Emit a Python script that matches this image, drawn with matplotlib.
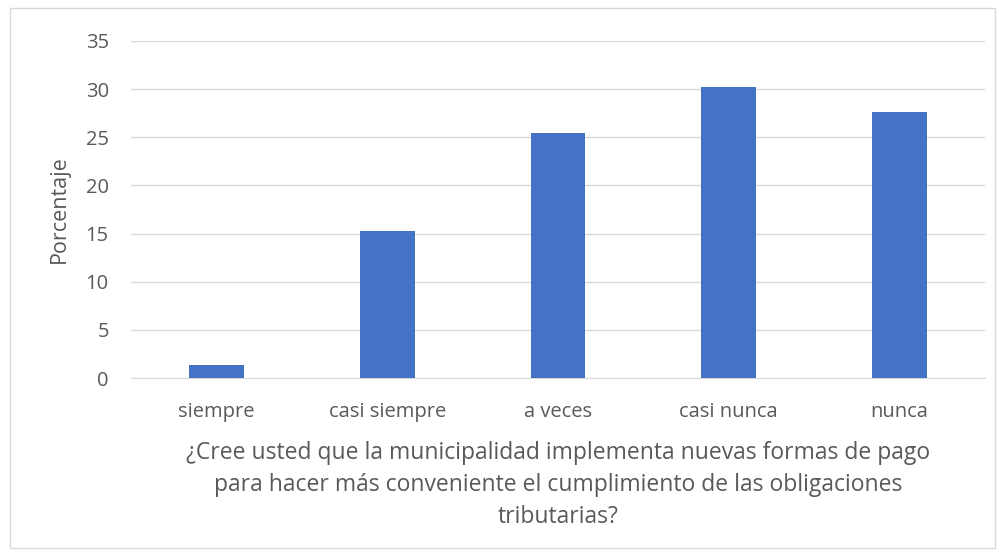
import matplotlib
matplotlib.use('Agg')
import matplotlib.pyplot as plt
from matplotlib.patches import Rectangle

categories = ['siempre', 'casi siempre', 'a veces', 'casi nunca', 'nunca']
porcentaje = [1.3, 15.3, 25.4, 30.2, 27.6]
y_ticks = [0, 5, 10, 15, 20, 25, 30, 35]

xlabel = ('¿Cree usted que la municipalidad implementa nuevas formas de pago\n'
          'para hacer más conveniente el cumplimiento de las obligaciones\n'
          'tributarias?')

plt.rcParams['font.family'] = ['Open Sans', 'DejaVu Sans']
text_color = '#595959'

fig = plt.figure(figsize=(10.02, 5.56), dpi=100)
fig.patches.append(Rectangle((10 / 1002, 8 / 556), 985 / 1002, 540 / 556,
                             transform=fig.transFigure, fill=False,
                             edgecolor='#D9D9D9', linewidth=1))

ax = fig.add_axes([131 / 1002, 178 / 556, 854 / 1002, 337 / 556])
x = range(len(categories))
ax.bar(x, porcentaje, width=0.32, color='#4472C4', zorder=3)

ax.set_xlim(-0.5, len(categories) - 0.5)
ax.set_ylim(0, 35)
ax.set_yticks(y_ticks)
ax.set_xticks(list(x))
ax.set_xticklabels(categories)
ax.grid(axis='y', color='#D9D9D9', linewidth=1, zorder=0)
for s in ['top', 'right', 'left']:
    ax.spines[s].set_visible(False)
ax.spines['bottom'].set_color('#D9D9D9')
ax.tick_params(axis='both', length=0, labelsize=14.5, colors=text_color)
ax.tick_params(axis='y', pad=16)
ax.tick_params(axis='x', pad=17)

ax.set_ylabel('Porcentaje', fontsize=15.5, color=text_color, labelpad=11)
ax.set_xlabel(xlabel, fontsize=16.5, color=text_color, labelpad=14,
              linespacing=1.45)

fig.savefig('out.png', dpi=100)
